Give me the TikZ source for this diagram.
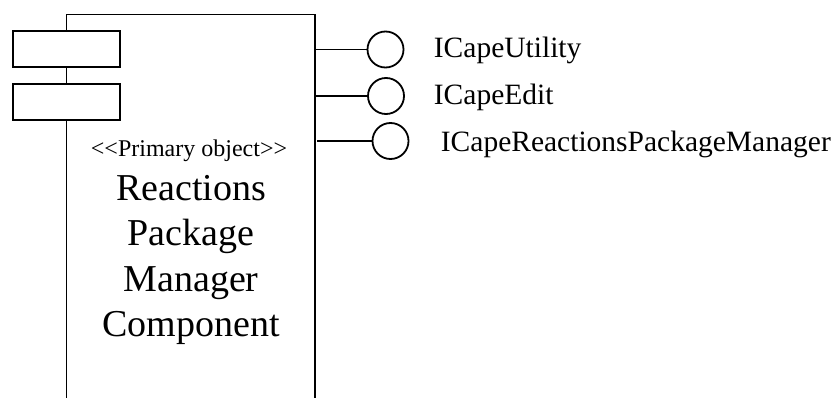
\documentclass[tikz,border=0pt]{standalone}
\usepackage{fontspec}
\setmainfont{Liberation Serif}
\begin{document}
\begin{tikzpicture}[x=1pt,y=-1pt,line width=1.8pt,
  port/.style={draw,fill=white,rectangle,minimum width=107pt,minimum height=36pt,inner sep=0pt},
  iface/.style={draw,fill=white,circle,minimum size=36pt,inner sep=0pt},
  label/.style={anchor=base west,inner sep=0pt,font=\fontsize{29.5}{34}\selectfont}]
  \useasboundingbox (0,0) rectangle (834,398);
  \draw (66.5,398) -- (66.5,14.5) -- (315,14.5) -- (315,398);
  \node[port] (p1) at (66.5,49) {};
  \node[port] (p2) at (66.5,102) {};
  \node[inner sep=0pt,anchor=base,font=\fontsize{24}{28}\selectfont] (stereo) at (189,157)
    {<\kern0pt<Primary object>\kern0pt>};
  \node[inner sep=0pt,anchor=north,align=center,font=\fontsize{38}{45.5}\selectfont] (name) at (191,174)
    {Reactions\\Package\\Manager\\Component};
  \coordinate (e1) at (315,49.5);
  \coordinate (e2) at (315,96);
  \coordinate (e3) at (317,141);
  \node[iface] (util) at (385.5,49.5) {};
  \node[iface] (edit) at (386,96) {};
  \node[iface] (rpm) at (390.5,141) {};
  \draw (e1) -- (util);
  \draw (e2) -- (edit);
  \draw (e3) -- (rpm);
  \node[label] (lutil) at (433,58) {ICapeUtility};
  \node[label] (ledit) at (433,105) {ICapeEdit};
  \node[label] (lrpm) at (440,152) {ICapeReactionsPackageManager};
\end{tikzpicture}
\end{document}
